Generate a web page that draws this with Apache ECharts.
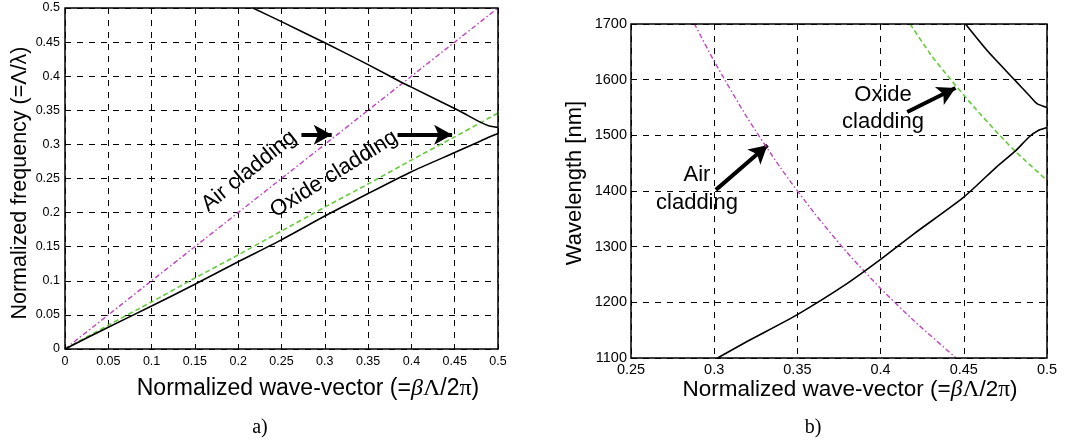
<!DOCTYPE html>
<html><head><meta charset="utf-8">
<script src="https://cdn.jsdelivr.net/npm/echarts@6/dist/echarts.min.js"></script>
<style>html,body{margin:0;padding:0;background:#fff}#c{width:1075px;height:444px}</style>
</head><body><div id="c"></div>
<script>
// ---- Panel a) data: normalized wave-vector vs normalized frequency ----
const aWaveVector = [0, 0.05, 0.1, 0.15, 0.2, 0.25, 0.3, 0.35, 0.4, 0.45, 0.48, 0.49, 0.5];
const aAirLine    = [0, 0.05, 0.1, 0.15, 0.2, 0.25, 0.3, 0.35, 0.4, 0.45, 0.48, 0.49, 0.5];
const aOxideLine  = [0, 0.035, 0.069, 0.104, 0.138, 0.173, 0.208, 0.242, 0.277, 0.311, 0.332, 0.339, 0.346];
const aLowerBand  = [0, 0.032, 0.063, 0.095, 0.128, 0.16, 0.195, 0.228, 0.26, 0.288, 0.305, 0.311, 0.316];
const aUpperX     = [0.217, 0.25, 0.3, 0.35, 0.39, 0.4, 0.454, 0.479, 0.49, 0.5];
const aUpperBand  = [0.5, 0.48, 0.449, 0.417, 0.39, 0.384, 0.35, 0.333, 0.327, 0.325];

// ---- Panel b) data: normalized wave-vector vs wavelength [nm] ----
const bAirX       = [0.288, 0.3, 0.32, 0.34, 0.36, 0.38, 0.4, 0.42, 0.445];
const bAirWl      = [1701, 1633, 1531, 1441, 1361, 1289, 1225, 1167, 1101];
const bOxideX     = [0.4177, 0.4304, 0.4422, 0.457, 0.4716, 0.4814, 0.5];
const bOxideWl    = [1700, 1644, 1600, 1548, 1500, 1470, 1419];
const bLowerX     = [0.302, 0.32, 0.35, 0.38, 0.4, 0.42, 0.45, 0.4696, 0.4814, 0.4892, 0.495, 0.5];
const bLowerWl    = [1100, 1130, 1178, 1234, 1277, 1323, 1389, 1443, 1473, 1497, 1509, 1514];
const bUpperX     = [0.451, 0.4647, 0.4804, 0.4892, 0.494, 0.5];
const bUpperWl    = [1700, 1650, 1600, 1572, 1557, 1550];

const zip = (xs, ys) => xs.map((x, i) => [x, ys[i]]);
const FONT = 'Liberation Sans, Arial, sans-serif';
const SERIF = 'Liberation Serif, serif';
const MAGENTA = '#c044c0', GREEN = '#66cc3a';
const DASHDOT = [5, 2.5, 1.5, 2.5];
const gridLine = { show: true, lineStyle: { color: '#000', type: [6, 6], width: 1 } };
const fmt = v => String(+(+v).toFixed(2));

function line(name, data, xi, color, type, width) {
  return { name, type: 'line', xAxisIndex: xi, yAxisIndex: xi, data, showSymbol: false,
    smooth: 0.2,
    lineStyle: { color, type, width }, silent: true, animation: false, z: 5 };
}
function arrows(xi, segs) {
  return { type: 'line', xAxisIndex: xi, yAxisIndex: xi, data: [], silent: true, animation: false, z: 8,
    markLine: { silent: true, animation: false, symbol: ['none', 'arrow'], symbolSize: [15, 18],
      label: { show: false }, lineStyle: { color: '#000', width: 4, type: 'solid' },
      emphasis: { disabled: true },
      data: segs.map(s => [{ coord: s[0] }, { coord: s[1] }]) } };
}
function axis(grid, min, max, interval, fs, margin) {
  return { type: 'value', gridIndex: grid, min, max, interval, splitLine: gridLine,
    axisLine: { show: false }, axisTick: { show: false },
    axisLabel: { margin, fontSize: fs, color: '#000', fontFamily: FONT, formatter: fmt } };
}

const chart = echarts.init(document.getElementById('c'), null, { renderer: 'canvas' });
const rad = d => d * Math.PI / 180;
const txt = (x, y, text, size, rot, family) => ({ type: 'text', x, y, rotation: rot ? rad(rot) : 0, z: 20,
  style: { text, fontSize: size, fontFamily: family || FONT, fill: '#000', align: 'center', verticalAlign: 'middle' } });
const rich = fs => ({
  b: { fontFamily: SERIF, fontStyle: 'italic', fontSize: fs + 1 },
  s: { fontFamily: SERIF, fontSize: fs + 1 }
});

chart.setOption({
  animation: false,
  backgroundColor: '#fff',
  grid: [
    { left: 65, right: 577, top: 8, bottom: 95, show: true, borderColor: '#000', borderWidth: 1.5, z: 10 },
    { left: 631, right: 28, top: 24, bottom: 86, show: true, borderColor: '#000', borderWidth: 1.5, z: 10 }
  ],
  xAxis: [ axis(0, 0, 0.5, 0.05, 12.5, 6), axis(1, 0.25, 0.5, 0.05, 14.5, 4) ],
  yAxis: [ axis(0, 0, 0.5, 0.05, 12.5, 5), axis(1, 1100, 1700, 100, 14.5, 4) ],
  series: [
    line('Air light line', zip(aWaveVector, aAirLine), 0, MAGENTA, DASHDOT, 1.4),
    line('Oxide light line', zip(aWaveVector, aOxideLine), 0, GREEN, [5, 3], 1.6),
    line('Lower band', zip(aWaveVector, aLowerBand), 0, '#000', 'solid', 1.6),
    line('Upper band', zip(aUpperX, aUpperBand), 0, '#000', 'solid', 1.6),
    arrows(0, [[[0.273, 0.314], [0.308, 0.314]], [[0.384, 0.314], [0.447, 0.314]]]),
    line('Air light line', zip(bAirX, bAirWl), 1, MAGENTA, DASHDOT, 1.4),
    line('Oxide light line', zip(bOxideX, bOxideWl), 1, GREEN, [5, 3], 1.6),
    line('Lower band', zip(bLowerX, bLowerWl), 1, '#000', 'solid', 1.6),
    line('Upper band', zip(bUpperX, bUpperWl), 1, '#000', 'solid', 1.6),
    arrows(1, [[[0.301, 1402], [0.332, 1482]], [[0.416, 1542], [0.445, 1585]]])
  ],
  graphic: [
    txt(249, 171, 'Air cladding', 22, 39),
    txt(334, 174, 'Oxide cladding', 22, 32),
    txt(883, 95, 'Oxide', 22, 0),
    txt(883, 122, 'cladding', 22, 0),
    txt(697, 175, 'Air', 22, 0),
    txt(697, 203, 'cladding', 22, 0),
    { type: 'text', x: 20, y: 183, rotation: rad(90), z: 20,
      style: { text: 'Normalized frequency (=Λ/λ)', fontSize: 21.5, fontFamily: FONT, fill: '#000', align: 'center', verticalAlign: 'middle' } },
    { type: 'text', x: 575, y: 183, rotation: rad(90), z: 20,
      style: { text: 'Wavelength [nm]', fontSize: 22, fontFamily: FONT, fill: '#000', align: 'center', verticalAlign: 'middle' } },
    { type: 'text', x: 308, y: 389, z: 20,
      style: { text: 'Normalized wave-vector (={b|β}{s|Λ}/2{s|π})', fontSize: 23, fontFamily: FONT, fill: '#000', align: 'center', verticalAlign: 'middle', rich: rich(23) } },
    { type: 'text', x: 850, y: 390, z: 20,
      style: { text: 'Normalized wave-vector (={b|β}{s|Λ}/2{s|π})', fontSize: 22.5, fontFamily: FONT, fill: '#000', align: 'center', verticalAlign: 'middle', rich: rich(22.5) } },
    txt(260, 428, 'a)', 20, 0, SERIF),
    txt(813, 428, 'b)', 20, 0, SERIF)
  ]
});
</script>
</body></html>
